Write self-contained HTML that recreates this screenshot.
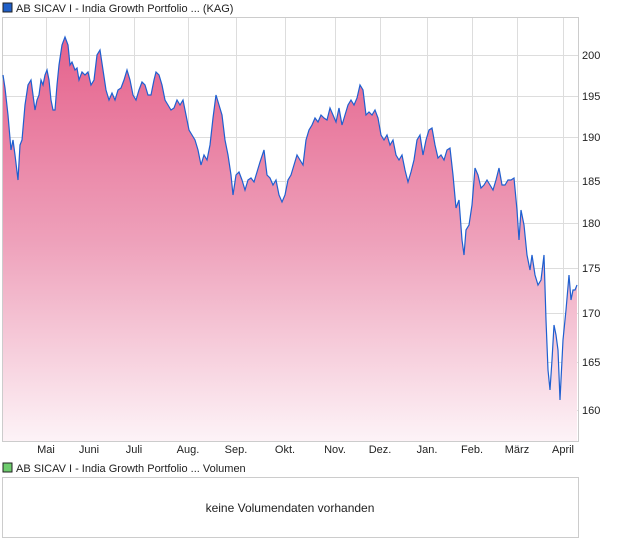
<!DOCTYPE html>
<html><head><meta charset="utf-8"><style>
body{margin:0;background:#fff;font-family:"Liberation Sans",sans-serif;}
svg text{font-family:"Liberation Sans",sans-serif;font-size:11px;fill:#222;}
</style></head><body>
<svg width="620" height="546" viewBox="0 0 620 546" xmlns="http://www.w3.org/2000/svg">
<defs><linearGradient id="g" x1="0" y1="37" x2="0" y2="441" gradientUnits="userSpaceOnUse">
<stop offset="0" stop-color="#e5628c"/><stop offset="0.5" stop-color="#eea0ba"/><stop offset="1" stop-color="#fdf3f7"/></linearGradient></defs>
<rect x="3" y="3" width="9" height="9" fill="#1f5fc8" stroke="#222" stroke-width="1"/>
<text x="16" y="12">AB SICAV I - India Growth Portfolio ... (KAG)</text>
<rect x="2.5" y="17.5" width="576" height="424" fill="#fff" stroke="#ccc"/>
<g stroke="#ddd" stroke-width="1">
<line x1="46.5" y1="18" x2="46.5" y2="441"/><line x1="89.5" y1="18" x2="89.5" y2="441"/><line x1="134.5" y1="18" x2="134.5" y2="441"/><line x1="188.5" y1="18" x2="188.5" y2="441"/><line x1="236.5" y1="18" x2="236.5" y2="441"/><line x1="285.5" y1="18" x2="285.5" y2="441"/><line x1="335.5" y1="18" x2="335.5" y2="441"/><line x1="380.5" y1="18" x2="380.5" y2="441"/><line x1="427.5" y1="18" x2="427.5" y2="441"/><line x1="472.5" y1="18" x2="472.5" y2="441"/><line x1="517.5" y1="18" x2="517.5" y2="441"/><line x1="563.5" y1="18" x2="563.5" y2="441"/>
<line x1="3" y1="55.5" x2="578" y2="55.5"/><line x1="3" y1="96.5" x2="578" y2="96.5"/><line x1="3" y1="137.5" x2="578" y2="137.5"/><line x1="3" y1="181.5" x2="578" y2="181.5"/><line x1="3" y1="223.5" x2="578" y2="223.5"/><line x1="3" y1="268.5" x2="578" y2="268.5"/><line x1="3" y1="313.5" x2="578" y2="313.5"/><line x1="3" y1="362.5" x2="578" y2="362.5"/><line x1="3" y1="410.5" x2="578" y2="410.5"/>
</g>
<path d="M3,75 L5,88 8,115 11,150 13,140 15,155 18,180 20,145 22,140 25,105 28,85 31,80 33,95 35,110 37,100 39,95 41,80 43,85 45,75 47,70 49,80 51,100 53,110 55,110 57,85 59,65 62,45 65,37 68,45 70,65 72,62 75,70 77,68 79,80 82,72 85,75 88,72 91,85 94,80 97,55 100,50 103,70 106,90 109,100 112,93 115,100 118,90 121,88 124,80 127,70 130,80 133,95 136,100 139,90 142,82 145,85 148,95 151,95 154,80 156,72 159,75 162,85 165,100 168,105 171,110 174,108 177,100 180,105 183,100 186,115 189,130 192,135 195,140 198,150 201,165 204,155 207,160 210,145 213,118 216,95 219,105 222,115 225,140 228,155 231,175 233,195 236,175 239,172 242,180 245,190 248,180 251,178 254,182 257,172 260,162 264,150 267,175 270,178 273,185 276,180 279,195 282,202 285,195 288,180 291,175 294,165 297,155 300,160 303,165 306,140 309,130 312,125 315,118 318,122 321,115 324,118 327,120 330,108 333,115 336,122 339,108 342,125 345,115 348,105 351,100 354,105 357,98 360,85 363,90 366,115 369,112 372,115 375,110 378,118 381,135 384,140 387,135 390,145 393,140 396,155 399,160 402,155 405,170 408,182 411,172 414,160 417,140 420,135 423,155 426,140 429,130 432,128 435,145 438,158 441,155 444,160 447,150 450,148 453,175 456,208 459,200 462,240 464,255 466,230 469,225 472,205 475,168 478,175 481,188 484,185 487,180 490,185 493,190 496,180 499,168 502,185 505,185 508,180 511,180 514,178 517,210 519,240 521,210 524,225 527,255 530,270 532,255 535,275 538,285 541,280 544,255 546,320 548,370 550,390 552,360 554,325 556,335 558,350 560,400 563,340 566,310 569,275 571,300 573,290 575,290 577,285 L577,441 L3,441 Z" fill="url(#g)"/>
<path d="M3,75 L5,88 8,115 11,150 13,140 15,155 18,180 20,145 22,140 25,105 28,85 31,80 33,95 35,110 37,100 39,95 41,80 43,85 45,75 47,70 49,80 51,100 53,110 55,110 57,85 59,65 62,45 65,37 68,45 70,65 72,62 75,70 77,68 79,80 82,72 85,75 88,72 91,85 94,80 97,55 100,50 103,70 106,90 109,100 112,93 115,100 118,90 121,88 124,80 127,70 130,80 133,95 136,100 139,90 142,82 145,85 148,95 151,95 154,80 156,72 159,75 162,85 165,100 168,105 171,110 174,108 177,100 180,105 183,100 186,115 189,130 192,135 195,140 198,150 201,165 204,155 207,160 210,145 213,118 216,95 219,105 222,115 225,140 228,155 231,175 233,195 236,175 239,172 242,180 245,190 248,180 251,178 254,182 257,172 260,162 264,150 267,175 270,178 273,185 276,180 279,195 282,202 285,195 288,180 291,175 294,165 297,155 300,160 303,165 306,140 309,130 312,125 315,118 318,122 321,115 324,118 327,120 330,108 333,115 336,122 339,108 342,125 345,115 348,105 351,100 354,105 357,98 360,85 363,90 366,115 369,112 372,115 375,110 378,118 381,135 384,140 387,135 390,145 393,140 396,155 399,160 402,155 405,170 408,182 411,172 414,160 417,140 420,135 423,155 426,140 429,130 432,128 435,145 438,158 441,155 444,160 447,150 450,148 453,175 456,208 459,200 462,240 464,255 466,230 469,225 472,205 475,168 478,175 481,188 484,185 487,180 490,185 493,190 496,180 499,168 502,185 505,185 508,180 511,180 514,178 517,210 519,240 521,210 524,225 527,255 530,270 532,255 535,275 538,285 541,280 544,255 546,320 548,370 550,390 552,360 554,325 556,335 558,350 560,400 563,340 566,310 569,275 571,300 573,290 575,290 577,285" fill="none" stroke="#1f5fd0" stroke-width="1.2"/>
<g>
<text x="582" y="59">200</text><text x="582" y="100">195</text><text x="582" y="141">190</text><text x="582" y="185">185</text><text x="582" y="227">180</text><text x="582" y="272">175</text><text x="582" y="317">170</text><text x="582" y="366">165</text><text x="582" y="414">160</text>
</g>
<g text-anchor="middle">
<text x="46" y="453">Mai</text><text x="89" y="453">Juni</text><text x="134" y="453">Juli</text><text x="188" y="453">Aug.</text><text x="236" y="453">Sep.</text><text x="285" y="453">Okt.</text><text x="335" y="453">Nov.</text><text x="380" y="453">Dez.</text><text x="427" y="453">Jan.</text><text x="472" y="453">Feb.</text><text x="517" y="453">März</text><text x="563" y="453">April</text>
</g>
<rect x="3" y="463" width="9" height="9" fill="#6dcc6d" stroke="#222" stroke-width="1"/>
<text x="16" y="472">AB SICAV I - India Growth Portfolio ... Volumen</text>
<rect x="2.5" y="477.5" width="576" height="60" fill="#fff" stroke="#ccc"/>
<text x="290" y="512" text-anchor="middle" style="font-size:12px">keine Volumendaten vorhanden</text>
</svg>
</body></html>
